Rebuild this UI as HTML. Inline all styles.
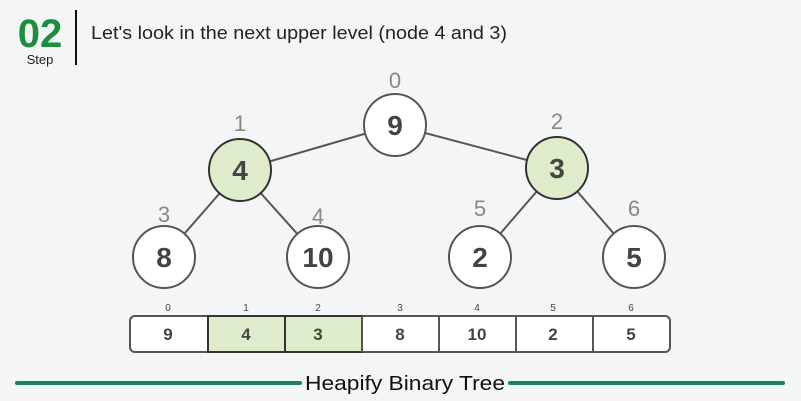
<!DOCTYPE html>
<html><head><style>
body{margin:0;width:801px;height:401px;background:#f4f5f7;overflow:hidden;font-family:"Liberation Sans",sans-serif}
</style></head><body>
<svg width="801" height="401" xmlns="http://www.w3.org/2000/svg" style="position:absolute;left:0;top:0">
<text x="40" y="47" text-anchor="middle" font-size="40" font-weight="bold" fill="#1e8e3e">02</text>
<text x="40" y="64" text-anchor="middle" font-size="13" fill="#222">Step</text>
<line x1="76" y1="10" x2="76" y2="65" stroke="#111" stroke-width="2"/>
<text x="91" y="39" font-size="18" fill="#222" textLength="416" lengthAdjust="spacingAndGlyphs">Let's look in the next upper level (node 4 and 3)</text>
<g stroke="#555" stroke-width="2">
<line x1="395" y1="125" x2="240" y2="170"/><line x1="395" y1="125" x2="557" y2="168"/>
<line x1="240" y1="170" x2="164" y2="257"/><line x1="240" y1="170" x2="318" y2="257"/>
<line x1="557" y1="168" x2="480" y2="257"/><line x1="557" y1="168" x2="634" y2="257"/>
</g>
<g stroke="#555" stroke-width="2">
<circle cx="395" cy="125" r="31" fill="#fff"/>
<circle cx="240" cy="170" r="31" fill="#dfeccb" stroke="#333"/>
<circle cx="557" cy="168" r="31" fill="#dfeccb" stroke="#333"/>
<circle cx="164" cy="257" r="31" fill="#fff"/>
<circle cx="318" cy="257" r="31" fill="#fff"/>
<circle cx="480" cy="257" r="31" fill="#fff"/>
<circle cx="634" cy="257" r="31" fill="#fff"/>
</g>
<g font-size="28" font-weight="bold" fill="#444" text-anchor="middle">
<text x="395" y="135">9</text><text x="240" y="180">4</text><text x="557" y="178">3</text>
<text x="164" y="267">8</text><text x="318" y="267">10</text><text x="480" y="267">2</text><text x="634" y="267">5</text>
</g>
<g font-size="22" fill="#888" text-anchor="middle">
<text x="395" y="88">0</text><text x="240" y="131">1</text><text x="557" y="129">2</text>
<text x="164" y="222">3</text><text x="318" y="224">4</text><text x="480" y="216">5</text><text x="634" y="216">6</text>
</g>
<rect x="130" y="316" width="540" height="36" rx="5" fill="#fff" stroke="#555" stroke-width="2"/>
<rect x="208" y="316" width="154" height="36" fill="#dfeccb" stroke="#333" stroke-width="2"/>
<g stroke="#555" stroke-width="2">
<line x1="285" y1="316" x2="285" y2="352" stroke="#333"/><line x1="362" y1="316" x2="362" y2="352"/>
<line x1="439" y1="316" x2="439" y2="352"/><line x1="516" y1="316" x2="516" y2="352"/><line x1="593" y1="316" x2="593" y2="352"/>
</g>
<g font-size="17" font-weight="bold" fill="#444" text-anchor="middle">
<text x="168" y="340">9</text><text x="246" y="340">4</text><text x="318" y="340">3</text><text x="400" y="340">8</text>
<text x="477" y="340">10</text><text x="553" y="340">2</text><text x="631" y="340">5</text>
</g>
<g font-size="10" fill="#444" text-anchor="middle">
<text x="168" y="311">0</text><text x="246" y="311">1</text><text x="318" y="311">2</text><text x="400" y="311">3</text>
<text x="477" y="311">4</text><text x="553" y="311">5</text><text x="631" y="311">6</text>
</g>
<line x1="17" y1="383" x2="300" y2="383" stroke="#17855a" stroke-width="4" stroke-linecap="round"/>
<line x1="510" y1="383" x2="783" y2="383" stroke="#17855a" stroke-width="4" stroke-linecap="round"/>
<text x="305" y="390" font-size="20" fill="#111" textLength="200" lengthAdjust="spacingAndGlyphs">Heapify Binary Tree</text>
</svg>
</body></html>
